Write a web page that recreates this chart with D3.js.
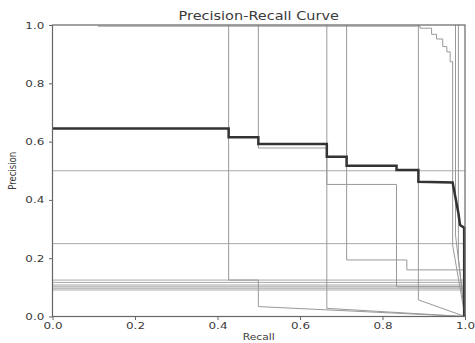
<!DOCTYPE html>
<html>
<head>
<meta charset="utf-8">
<script src="https://cdn.jsdelivr.net/npm/d3@7"></script>
<style>
  body { margin: 0; background: #fff; }
  text { font-family: "DejaVu Sans", sans-serif; fill: #3a3a3a; }
</style>
</head>
<body>
<svg id="chart" width="475" height="343"></svg>
<script>
// tick labels
const xTicks = [0, 0.2, 0.4, 0.6, 0.8, 1.0];
const yTicks = [0, 0.2, 0.4, 0.6, 0.8, 1.0];

// averaged curve (recall, precision)
const meanRecall    = [0, 0.427, 0.427, 0.499, 0.499, 0.665, 0.665, 0.713, 0.713, 0.834, 0.834, 0.887, 0.887, 0.970, 0.984, 0.988, 0.998, 0.998];
const meanPrecision = [0.645, 0.645, 0.615, 0.615, 0.592, 0.592, 0.548, 0.548, 0.517, 0.517, 0.503, 0.503, 0.462, 0.460, 0.354, 0.314, 0.305, 0.0];

// per class curves, [recall, precision]
const classA = [[0.427, 1.0], [0.427, 0.125], [0.499, 0.125], [0.499, 0.034], [1.0, 0.0]];
const classB = [[0.499, 1.0], [0.499, 0.578], [0.665, 0.578], [0.665, 0.028], [1.0, 0.0]];
const classC = [[0.665, 1.0], [0.665, 0.453], [0.834, 0.453], [0.834, 0.102], [1.0, 0.102]];
const classD = [[0.713, 1.0], [0.713, 0.194], [0.859, 0.194], [0.859, 0.160], [1.0, 0.160]];
const classE = [[0.887, 1.0], [0.887, 0.057], [1.0, 0.0]];
const classF = [[0.11, 0.996], [0.891, 0.996], [0.891, 0.989], [0.919, 0.989], [0.919, 0.968], [0.931, 0.968],
                [0.931, 0.952], [0.946, 0.952], [0.946, 0.926], [0.956, 0.926], [0.956, 0.908], [0.964, 0.908],
                [0.964, 0.874], [0.970, 0.874], [0.970, 0.245], [1.0, 0.0]];
const classG = [[0.977, 1.0], [0.977, 0.28], [1.0, 0.0]];
const classH = [[0.984, 1.0], [0.984, 0.20], [1.0, 0.0]];

// flat curves (constant precision over all recall)
const flatLevels = [0.5, 0.25, 0.125, 0.117, 0.108, 0.102, 0.097, 0.091];

const svg = d3.select("#chart");
const margin = {left: 52.5, right: 10, top: 25, bottom: 26.5};
const W = 475, H = 343;
const stretch = 1.26; // text in the picture is wider than tall

const x = d3.scaleLinear().domain([0, 1]).range([margin.left, W - margin.right]);
const y = d3.scaleLinear().domain([0, 1]).range([H - margin.bottom, margin.top]);

const line = d3.line().x(d => x(d[0])).y(d => y(d[1]));

// thin class curves
const plot = svg.append("g");
flatLevels.forEach(p => {
  plot.append("path")
    .attr("d", line([[0, p], [1, p]]))
    .attr("fill", "none")
    .attr("stroke", "#a8a8a8")
    .attr("stroke-width", 1);
});

[classA, classB, classC, classD, classE, classF, classG, classH].forEach(c => {
  plot.append("path")
    .attr("d", line(c))
    .attr("fill", "none")
    .attr("stroke", "#999")
    .attr("stroke-width", 1);
});

// mean curve
plot.append("path")
  .attr("d", line(meanRecall.map((r, i) => [r, meanPrecision[i]])))
  .attr("fill", "none")
  .attr("stroke", "#333")
  .attr("stroke-width", 2.5);

// frame
svg.append("rect")
  .attr("x", x(0)).attr("y", y(1))
  .attr("width", x(1) - x(0)).attr("height", y(0) - y(1))
  .attr("fill", "none").attr("stroke", "#666").attr("stroke-width", 1.2);

// axes
const xAxis = svg.append("g")
  .attr("transform", `translate(0,${y(0)})`)
  .call(d3.axisBottom(x).tickValues(xTicks).tickFormat(d3.format(".1f")).tickSize(3.5).tickPadding(2));
const yAxis = svg.append("g")
  .attr("transform", `translate(${x(0)},0)`)
  .call(d3.axisLeft(y).tickValues(yTicks).tickFormat(d3.format(".1f")).tickSize(3.5).tickPadding(3));
[xAxis, yAxis].forEach(a => {
  a.select(".domain").remove();
  a.selectAll("line").attr("stroke", "#666");
  a.selectAll("text")
    .style("font-size", "9.5px")
    .attr("fill", "#3a3a3a")
    .attr("transform", `scale(${stretch},1)`);
});

// titles
svg.append("text")
  .attr("transform", `translate(${(x(0) + x(1)) / 2},20) scale(${stretch},1)`)
  .attr("text-anchor", "middle")
  .style("font-size", "11.5px")
  .text("Precision-Recall Curve");

svg.append("text")
  .attr("transform", `translate(${(x(0) + x(1)) / 2},340) scale(${stretch},1)`)
  .attr("text-anchor", "middle")
  .style("font-size", "8.5px")
  .text("Recall");

svg.append("text")
  .attr("transform", `translate(16,${(y(0) + y(1)) / 2}) scale(${stretch},1) rotate(-90)`)
  .attr("text-anchor", "middle")
  .style("font-size", "8.5px")
  .text("Precision");
</script>
</body>
</html>
